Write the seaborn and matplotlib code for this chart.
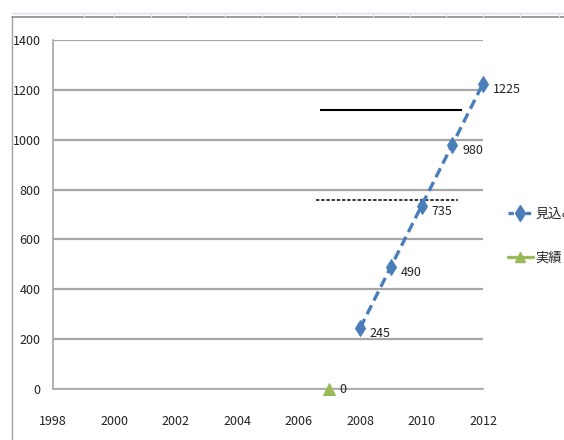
import matplotlib
matplotlib.use("Agg")
import matplotlib.pyplot as plt
from matplotlib.lines import Line2D
import seaborn as sns
import pandas as pd

# Series data
forecast_years = [2008, 2009, 2010, 2011, 2012]
forecast_values = [245, 490, 735, 980, 1225]
actual_years = [2007]
actual_values = [0]
series_names = ["見込み", "実績"]

# Reference levels drawn as horizontal markers
target_solid = 1120
target_dotted = 758
target_span = [2006.7, 2011.3]
target_span_dotted = [2006.55, 2011.2]

x_ticks = [1998, 2000, 2002, 2004, 2006, 2008, 2010, 2012]
y_ticks = [0, 200, 400, 600, 800, 1000, 1200, 1400]

sns.set_theme(style="white")
plt.rcParams["font.family"] = ["Liberation Sans Narrow", "Noto Sans CJK JP", "DejaVu Sans"]

blue = "#4A7EBB"
green = "#9BBB59"
grid_gray = "#A6A6A6"

df_f = pd.DataFrame({"year": forecast_years, "value": forecast_values})
df_a = pd.DataFrame({"year": actual_years, "value": actual_values})

fig = plt.figure(figsize=(5.64, 4.40), dpi=100)
ax = fig.add_axes([53 / 564, 51 / 440, 430 / 564, 349 / 440])

sns.lineplot(data=df_f, x="year", y="value", ax=ax, color=blue, lw=2.4,
             linestyle=(0, (3, 1.6)), marker="d", markersize=8.5,
             markeredgecolor=blue, clip_on=False, zorder=5)
sns.lineplot(data=df_a, x="year", y="value", ax=ax, color=green, lw=2.4,
             marker="^", markersize=8, markeredgecolor=green,
             clip_on=False, zorder=5)

for x, y in zip(forecast_years, forecast_values):
    ax.annotate(str(y), (x, y), xytext=(7, -4), textcoords="offset points",
                fontsize=9, color="#222222", va="center", ha="left")
for x, y in zip(actual_years, actual_values):
    ax.annotate(str(y), (x, y), xytext=(7, 0), textcoords="offset points",
                fontsize=9, color="#222222", va="center", ha="left")

ax.hlines(target_solid, *target_span, colors="black", lw=1.5, zorder=4)
ax.hlines(target_dotted, *target_span_dotted, colors="black", lw=1.1,
          linestyles=(0, (2.2, 1.2)), zorder=4)

ax.set_xlim(1998, 2012)
ax.set_ylim(0, 1400)
ax.set_xticks(x_ticks)
ax.set_yticks(y_ticks)
ax.set_xlabel("")
ax.set_ylabel("")
ax.yaxis.grid(True, color=grid_gray, lw=1.6)
ax.xaxis.grid(False)
for side in ["top", "right"]:
    ax.spines[side].set_visible(False)
for side in ["left", "bottom"]:
    ax.spines[side].set_color(grid_gray)
    ax.spines[side].set_linewidth(1.2)
ax.tick_params(axis="both", which="major", direction="out", length=5,
               width=1, color=grid_gray, labelsize=9, labelcolor="#222222")
ax.tick_params(axis="x", pad=14)
ax.tick_params(axis="y", pad=4)

handles = [
    Line2D([], [], color=blue, lw=2.4, linestyle=(0, (1.6, 1.0)), marker="d",
           markersize=8, markeredgecolor=blue),
    Line2D([], [], color=green, lw=2.4, marker="^", markersize=7,
           markeredgecolor=green),
]
leg = fig.legend(handles, series_names, loc="upper left",
                 bbox_to_anchor=(496 / 564, 1 - 196 / 440), frameon=False,
                 prop={"family": ["Noto Sans CJK JP", "DejaVu Sans"], "size": 9.5},
                 handlelength=1.9, handletextpad=0.2, labelspacing=2.35)

# Chart-area frame and sheet gridline
fig.add_artist(Line2D([12 / 564, 12 / 564], [0, 1 - 17 / 440],
                      transform=fig.transFigure, color="#A0A0A0", lw=1.0))
fig.add_artist(Line2D([12 / 564, 1], [1 - 17 / 440, 1 - 17 / 440],
                      transform=fig.transFigure, color="#8C8C8C", lw=1.2))
fig.add_artist(Line2D([12 / 564, 1], [1 - 13 / 440, 1 - 13 / 440],
                      transform=fig.transFigure, color="#D6E0EE", lw=1.0))
for cx in [84, 114, 151, 188, 225, 262, 299, 336, 373, 410, 446, 483, 520, 559]:
    fig.add_artist(Line2D([cx / 564, cx / 564], [1 - 17 / 440, 1 - 13 / 440],
                          transform=fig.transFigure, color="#D6E0EE", lw=0.8))

fig.savefig("out.png", dpi=100)
